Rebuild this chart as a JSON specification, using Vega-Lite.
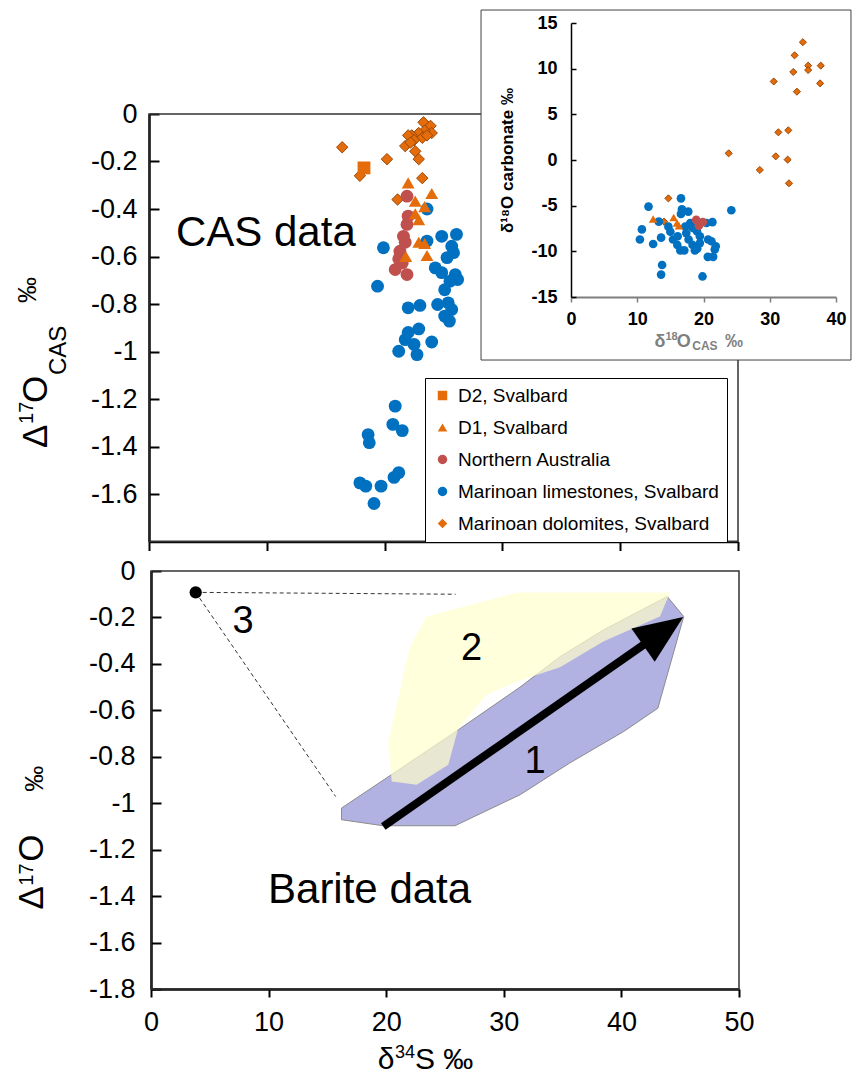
{
  "$schema": "https://vega.github.io/schema/vega-lite/v6.json",
  "width": 861,
  "height": 1084,
  "autosize": "none",
  "padding": 0,
  "background": "white",
  "datasets": {
    "cas": [
      {"series": "Marinoan dolomites, Svalbard", "d34S": 16.4, "D17O": -0.14},
      {"series": "Marinoan dolomites, Svalbard", "d34S": 20.2, "D17O": -0.19},
      {"series": "Marinoan dolomites, Svalbard", "d34S": 17.9, "D17O": -0.26},
      {"series": "Marinoan dolomites, Svalbard", "d34S": 23.2, "D17O": -0.27},
      {"series": "Marinoan dolomites, Svalbard", "d34S": 21.1, "D17O": -0.36},
      {"series": "Marinoan dolomites, Svalbard", "d34S": 23.3, "D17O": -0.035},
      {"series": "Marinoan dolomites, Svalbard", "d34S": 23.9, "D17O": -0.05},
      {"series": "Marinoan dolomites, Svalbard", "d34S": 24.0, "D17O": -0.08},
      {"series": "Marinoan dolomites, Svalbard", "d34S": 23.4, "D17O": -0.07},
      {"series": "Marinoan dolomites, Svalbard", "d34S": 22.9, "D17O": -0.08},
      {"series": "Marinoan dolomites, Svalbard", "d34S": 22.3, "D17O": -0.09},
      {"series": "Marinoan dolomites, Svalbard", "d34S": 22.0, "D17O": -0.09},
      {"series": "Marinoan dolomites, Svalbard", "d34S": 23.2, "D17O": -0.1},
      {"series": "Marinoan dolomites, Svalbard", "d34S": 22.5, "D17O": -0.11},
      {"series": "Marinoan dolomites, Svalbard", "d34S": 21.75, "D17O": -0.135},
      {"series": "Marinoan dolomites, Svalbard", "d34S": 22.6, "D17O": -0.157},
      {"series": "Marinoan dolomites, Svalbard", "d34S": 22.9, "D17O": -0.19},
      {"series": "Marinoan dolomites, Svalbard", "d34S": 22.2, "D17O": -0.12},
      {"series": "Marinoan dolomites, Svalbard", "d34S": 23.6, "D17O": -0.09},
      {"series": "Marinoan limestones, Svalbard", "d34S": 23.6, "D17O": -0.4},
      {"series": "Marinoan limestones, Svalbard", "d34S": 19.9, "D17O": -0.563},
      {"series": "Marinoan limestones, Svalbard", "d34S": 23.6, "D17O": -0.535},
      {"series": "Marinoan limestones, Svalbard", "d34S": 24.85, "D17O": -0.515},
      {"series": "Marinoan limestones, Svalbard", "d34S": 26.1, "D17O": -0.507},
      {"series": "Marinoan limestones, Svalbard", "d34S": 25.7, "D17O": -0.557},
      {"series": "Marinoan limestones, Svalbard", "d34S": 25.85, "D17O": -0.584},
      {"series": "Marinoan limestones, Svalbard", "d34S": 25.3, "D17O": -0.605},
      {"series": "Marinoan limestones, Svalbard", "d34S": 24.3, "D17O": -0.648},
      {"series": "Marinoan limestones, Svalbard", "d34S": 24.85, "D17O": -0.668},
      {"series": "Marinoan limestones, Svalbard", "d34S": 26.0, "D17O": -0.676},
      {"series": "Marinoan limestones, Svalbard", "d34S": 26.2, "D17O": -0.697},
      {"series": "Marinoan limestones, Svalbard", "d34S": 25.55, "D17O": -0.704},
      {"series": "Marinoan limestones, Svalbard", "d34S": 25.1, "D17O": -0.74},
      {"series": "Marinoan limestones, Svalbard", "d34S": 19.4, "D17O": -0.725},
      {"series": "Marinoan limestones, Svalbard", "d34S": 22.0, "D17O": -0.816},
      {"series": "Marinoan limestones, Svalbard", "d34S": 23.0, "D17O": -0.806},
      {"series": "Marinoan limestones, Svalbard", "d34S": 24.5, "D17O": -0.802},
      {"series": "Marinoan limestones, Svalbard", "d34S": 25.4, "D17O": -0.795},
      {"series": "Marinoan limestones, Svalbard", "d34S": 25.7, "D17O": -0.823},
      {"series": "Marinoan limestones, Svalbard", "d34S": 25.1, "D17O": -0.851},
      {"series": "Marinoan limestones, Svalbard", "d34S": 25.5, "D17O": -0.872},
      {"series": "Marinoan limestones, Svalbard", "d34S": 22.9, "D17O": -0.905},
      {"series": "Marinoan limestones, Svalbard", "d34S": 22.0, "D17O": -0.92},
      {"series": "Marinoan limestones, Svalbard", "d34S": 21.75, "D17O": -0.95},
      {"series": "Marinoan limestones, Svalbard", "d34S": 22.5, "D17O": -0.97},
      {"series": "Marinoan limestones, Svalbard", "d34S": 24.0, "D17O": -0.96},
      {"series": "Marinoan limestones, Svalbard", "d34S": 21.2, "D17O": -0.999},
      {"series": "Marinoan limestones, Svalbard", "d34S": 22.75, "D17O": -1.013},
      {"series": "Marinoan limestones, Svalbard", "d34S": 20.9, "D17O": -1.23},
      {"series": "Marinoan limestones, Svalbard", "d34S": 20.7, "D17O": -1.307},
      {"series": "Marinoan limestones, Svalbard", "d34S": 21.5, "D17O": -1.333},
      {"series": "Marinoan limestones, Svalbard", "d34S": 18.6, "D17O": -1.35},
      {"series": "Marinoan limestones, Svalbard", "d34S": 18.7, "D17O": -1.384},
      {"series": "Marinoan limestones, Svalbard", "d34S": 21.2, "D17O": -1.51},
      {"series": "Marinoan limestones, Svalbard", "d34S": 20.8, "D17O": -1.53},
      {"series": "Marinoan limestones, Svalbard", "d34S": 17.9, "D17O": -1.553},
      {"series": "Marinoan limestones, Svalbard", "d34S": 18.4, "D17O": -1.567},
      {"series": "Marinoan limestones, Svalbard", "d34S": 19.7, "D17O": -1.567},
      {"series": "Marinoan limestones, Svalbard", "d34S": 19.1, "D17O": -1.64},
      {"series": "Northern Australia", "d34S": 21.9, "D17O": -0.346},
      {"series": "Northern Australia", "d34S": 22.0, "D17O": -0.43},
      {"series": "Northern Australia", "d34S": 21.9, "D17O": -0.465},
      {"series": "Northern Australia", "d34S": 21.6, "D17O": -0.515},
      {"series": "Northern Australia", "d34S": 21.75, "D17O": -0.54},
      {"series": "Northern Australia", "d34S": 21.3, "D17O": -0.578},
      {"series": "Northern Australia", "d34S": 21.2, "D17O": -0.61},
      {"series": "Northern Australia", "d34S": 20.9, "D17O": -0.655},
      {"series": "Northern Australia", "d34S": 21.9, "D17O": -0.676},
      {"series": "Northern Australia", "d34S": 21.5, "D17O": -0.627},
      {"series": "D1, Svalbard", "d34S": 22.0, "D17O": -0.29},
      {"series": "D1, Svalbard", "d34S": 24.0, "D17O": -0.335},
      {"series": "D1, Svalbard", "d34S": 22.6, "D17O": -0.367},
      {"series": "D1, Svalbard", "d34S": 23.4, "D17O": -0.39},
      {"series": "D1, Svalbard", "d34S": 22.6, "D17O": -0.42},
      {"series": "D1, Svalbard", "d34S": 22.9, "D17O": -0.445},
      {"series": "D1, Svalbard", "d34S": 22.9, "D17O": -0.54},
      {"series": "D1, Svalbard", "d34S": 23.4, "D17O": -0.545},
      {"series": "D1, Svalbard", "d34S": 23.6, "D17O": -0.596},
      {"series": "D1, Svalbard", "d34S": 21.8, "D17O": -0.6},
      {"series": "D2, Svalbard", "d34S": 18.25, "D17O": -0.227}
    ],
    "inset": [
      {"series": "Marinoan dolomites, Svalbard", "d18O_CAS": 35.0, "d18O_carb": 12.9},
      {"series": "Marinoan dolomites, Svalbard", "d18O_CAS": 33.75, "d18O_carb": 11.46},
      {"series": "Marinoan dolomites, Svalbard", "d18O_CAS": 33.55, "d18O_carb": 9.64},
      {"series": "Marinoan dolomites, Svalbard", "d18O_CAS": 35.8, "d18O_carb": 10.33},
      {"series": "Marinoan dolomites, Svalbard", "d18O_CAS": 35.8, "d18O_carb": 9.85},
      {"series": "Marinoan dolomites, Svalbard", "d18O_CAS": 37.7, "d18O_carb": 10.33},
      {"series": "Marinoan dolomites, Svalbard", "d18O_CAS": 37.6, "d18O_carb": 8.39},
      {"series": "Marinoan dolomites, Svalbard", "d18O_CAS": 30.6, "d18O_carb": 8.6},
      {"series": "Marinoan dolomites, Svalbard", "d18O_CAS": 34.1, "d18O_carb": 7.48},
      {"series": "Marinoan dolomites, Svalbard", "d18O_CAS": 32.8, "d18O_carb": 3.25},
      {"series": "Marinoan dolomites, Svalbard", "d18O_CAS": 31.3, "d18O_carb": 3.03},
      {"series": "Marinoan dolomites, Svalbard", "d18O_CAS": 30.9, "d18O_carb": 0.4},
      {"series": "Marinoan dolomites, Svalbard", "d18O_CAS": 32.7, "d18O_carb": 0.04},
      {"series": "Marinoan dolomites, Svalbard", "d18O_CAS": 32.9, "d18O_carb": -2.55},
      {"series": "Marinoan dolomites, Svalbard", "d18O_CAS": 28.5, "d18O_carb": -1.09},
      {"series": "Marinoan dolomites, Svalbard", "d18O_CAS": 23.8, "d18O_carb": 0.73},
      {"series": "Marinoan dolomites, Svalbard", "d18O_CAS": 14.7, "d18O_carb": -4.2},
      {"series": "Marinoan dolomites, Svalbard", "d18O_CAS": 14.05, "d18O_carb": -6.75},
      {"series": "Marinoan limestones, Svalbard", "d18O_CAS": 11.7, "d18O_carb": -5.1},
      {"series": "Marinoan limestones, Svalbard", "d18O_CAS": 10.7, "d18O_carb": -7.6},
      {"series": "Marinoan limestones, Svalbard", "d18O_CAS": 10.4, "d18O_carb": -8.7},
      {"series": "Marinoan limestones, Svalbard", "d18O_CAS": 12.4, "d18O_carb": -9.2},
      {"series": "Marinoan limestones, Svalbard", "d18O_CAS": 13.25, "d18O_carb": -6.75},
      {"series": "Marinoan limestones, Svalbard", "d18O_CAS": 13.6, "d18O_carb": -8.5},
      {"series": "Marinoan limestones, Svalbard", "d18O_CAS": 13.75, "d18O_carb": -11.5},
      {"series": "Marinoan limestones, Svalbard", "d18O_CAS": 13.6, "d18O_carb": -12.55},
      {"series": "Marinoan limestones, Svalbard", "d18O_CAS": 14.7, "d18O_carb": -7.3},
      {"series": "Marinoan limestones, Svalbard", "d18O_CAS": 15.0, "d18O_carb": -7.85},
      {"series": "Marinoan limestones, Svalbard", "d18O_CAS": 15.4, "d18O_carb": -8.7},
      {"series": "Marinoan limestones, Svalbard", "d18O_CAS": 16.6, "d18O_carb": -4.2},
      {"series": "Marinoan limestones, Svalbard", "d18O_CAS": 16.75, "d18O_carb": -5.4},
      {"series": "Marinoan limestones, Svalbard", "d18O_CAS": 16.6, "d18O_carb": -5.9},
      {"series": "Marinoan limestones, Svalbard", "d18O_CAS": 17.7, "d18O_carb": -5.65},
      {"series": "Marinoan limestones, Svalbard", "d18O_CAS": 16.1, "d18O_carb": -8.35},
      {"series": "Marinoan limestones, Svalbard", "d18O_CAS": 16.05, "d18O_carb": -9.3},
      {"series": "Marinoan limestones, Svalbard", "d18O_CAS": 16.5, "d18O_carb": -9.9},
      {"series": "Marinoan limestones, Svalbard", "d18O_CAS": 17.1, "d18O_carb": -9.9},
      {"series": "Marinoan limestones, Svalbard", "d18O_CAS": 17.25, "d18O_carb": -7.3},
      {"series": "Marinoan limestones, Svalbard", "d18O_CAS": 17.4, "d18O_carb": -8.0},
      {"series": "Marinoan limestones, Svalbard", "d18O_CAS": 17.75, "d18O_carb": -8.7},
      {"series": "Marinoan limestones, Svalbard", "d18O_CAS": 18.35, "d18O_carb": -9.3},
      {"series": "Marinoan limestones, Svalbard", "d18O_CAS": 18.7, "d18O_carb": -9.9},
      {"series": "Marinoan limestones, Svalbard", "d18O_CAS": 19.0, "d18O_carb": -7.8},
      {"series": "Marinoan limestones, Svalbard", "d18O_CAS": 19.45, "d18O_carb": -8.35},
      {"series": "Marinoan limestones, Svalbard", "d18O_CAS": 19.45, "d18O_carb": -9.1},
      {"series": "Marinoan limestones, Svalbard", "d18O_CAS": 19.05, "d18O_carb": -9.7},
      {"series": "Marinoan limestones, Svalbard", "d18O_CAS": 19.85, "d18O_carb": -12.75},
      {"series": "Marinoan limestones, Svalbard", "d18O_CAS": 20.45, "d18O_carb": -6.9},
      {"series": "Marinoan limestones, Svalbard", "d18O_CAS": 21.35, "d18O_carb": -6.8},
      {"series": "Marinoan limestones, Svalbard", "d18O_CAS": 20.7, "d18O_carb": -8.7},
      {"series": "Marinoan limestones, Svalbard", "d18O_CAS": 21.2, "d18O_carb": -8.9},
      {"series": "Marinoan limestones, Svalbard", "d18O_CAS": 21.85, "d18O_carb": -9.45},
      {"series": "Marinoan limestones, Svalbard", "d18O_CAS": 21.7, "d18O_carb": -9.8},
      {"series": "Marinoan limestones, Svalbard", "d18O_CAS": 20.65, "d18O_carb": -10.6},
      {"series": "Marinoan limestones, Svalbard", "d18O_CAS": 21.45, "d18O_carb": -10.6},
      {"series": "Marinoan limestones, Svalbard", "d18O_CAS": 24.2, "d18O_carb": -5.5},
      {"series": "Marinoan limestones, Svalbard", "d18O_CAS": 18.0, "d18O_carb": -6.9},
      {"series": "Marinoan limestones, Svalbard", "d18O_CAS": 18.4, "d18O_carb": -7.45},
      {"series": "D1, Svalbard", "d18O_CAS": 12.4, "d18O_carb": -6.45},
      {"series": "D1, Svalbard", "d18O_CAS": 15.5, "d18O_carb": -6.3},
      {"series": "D1, Svalbard", "d18O_CAS": 16.0, "d18O_carb": -6.9},
      {"series": "D1, Svalbard", "d18O_CAS": 16.3, "d18O_carb": -7.2},
      {"series": "Northern Australia", "d18O_CAS": 18.9, "d18O_carb": -6.55},
      {"series": "Northern Australia", "d18O_CAS": 19.4, "d18O_carb": -6.9},
      {"series": "Northern Australia", "d18O_CAS": 19.9, "d18O_carb": -6.8},
      {"series": "Northern Australia", "d18O_CAS": 19.3, "d18O_carb": -7.2}
    ],
    "fields": [
      {"field": "1", "i": 0, "d34S": 16.2, "D17O": -1.021},
      {"field": "1", "i": 1, "d34S": 16.2, "D17O": -1.071},
      {"field": "1", "i": 2, "d34S": 19.75, "D17O": -1.097},
      {"field": "1", "i": 3, "d34S": 25.85, "D17O": -1.097},
      {"field": "1", "i": 4, "d34S": 31.4, "D17O": -0.963},
      {"field": "1", "i": 5, "d34S": 35.6, "D17O": -0.827},
      {"field": "1", "i": 6, "d34S": 40.2, "D17O": -0.691},
      {"field": "1", "i": 7, "d34S": 43.1, "D17O": -0.591},
      {"field": "1", "i": 8, "d34S": 45.3, "D17O": -0.196},
      {"field": "1", "i": 9, "d34S": 43.9, "D17O": -0.11},
      {"field": "1", "i": 10, "d34S": 38.46, "D17O": -0.254},
      {"field": "1", "i": 11, "d34S": 34.78, "D17O": -0.369},
      {"field": "1", "i": 12, "d34S": 31.38, "D17O": -0.5},
      {"field": "1", "i": 13, "d34S": 26.13, "D17O": -0.684},
      {"field": "2", "i": 0, "d34S": 23.44, "D17O": -0.196},
      {"field": "2", "i": 1, "d34S": 31.1, "D17O": -0.093},
      {"field": "2", "i": 2, "d34S": 44.13, "D17O": -0.093},
      {"field": "2", "i": 3, "d34S": 43.28, "D17O": -0.196},
      {"field": "2", "i": 4, "d34S": 38.46, "D17O": -0.304},
      {"field": "2", "i": 5, "d34S": 34.78, "D17O": -0.414},
      {"field": "2", "i": 6, "d34S": 31.1, "D17O": -0.476},
      {"field": "2", "i": 7, "d34S": 28.55, "D17O": -0.533},
      {"field": "2", "i": 8, "d34S": 26.13, "D17O": -0.677},
      {"field": "2", "i": 9, "d34S": 25.28, "D17O": -0.834},
      {"field": "2", "i": 10, "d34S": 22.59, "D17O": -0.92},
      {"field": "2", "i": 11, "d34S": 20.47, "D17O": -0.906},
      {"field": "2", "i": 12, "d34S": 20.18, "D17O": -0.741},
      {"field": "2", "i": 13, "d34S": 22.02, "D17O": -0.326}
    ],
    "guides": [
      {"x": 3.8, "y": -0.092, "x2": 25.9, "y2": -0.1},
      {"x": 3.8, "y": -0.092, "x2": 15.7, "y2": -0.971}
    ],
    "endmember": [{"label": "3", "d34S": 3.8, "D17O": -0.092}],
    "arrow": [{"x": 19.75, "y": -1.1, "x2": 43.55, "y2": -0.259}],
    "notes": [
      {"panel": "top", "role": "big", "text": "CAS data", "x": 2.29, "y": -0.556},
      {"panel": "bottom", "role": "big", "text": "Barite data", "x": 9.95, "y": -1.428},
      {"panel": "bottom", "role": "num", "text": "3", "x": 6.93, "y": -0.267},
      {"panel": "bottom", "role": "num", "text": "2", "x": 26.36, "y": -0.383},
      {"panel": "bottom", "role": "num", "text": "1", "x": 31.77, "y": -0.869},
      {"panel": "bottom", "role": "xtitle", "text": "δ", "x": 19.29, "y": -2.146},
      {"panel": "bottom", "role": "xsup", "text": "34", "x": 20.74, "y": -2.095},
      {"panel": "bottom", "role": "xtitle", "text": "S ‰", "x": 22.45, "y": -2.146},
      {"panel": "inset", "role": "imain", "text": "δ", "x": 12.6, "y": -20.5},
      {"panel": "inset", "role": "isup", "text": "18", "x": 14.25, "y": -19.75},
      {"panel": "inset", "role": "imain", "text": "O", "x": 15.95, "y": -20.5},
      {"panel": "inset", "role": "isub", "text": "CAS", "x": 18.3, "y": -20.85},
      {"panel": "inset", "role": "imain", "text": "‰", "x": 23.25, "y": -20.5}
    ],
    "ytitles": [
      {"panel": "top", "role": "title", "text": "Δ", "x": -8.66, "y": -1.406},
      {"panel": "top", "role": "titlesup", "text": "17", "x": -9.85, "y": -1.305},
      {"panel": "top", "role": "title", "text": "O", "x": -8.66, "y": -1.217},
      {"panel": "top", "role": "titlesub", "text": "CAS", "x": -7.05, "y": -1.099},
      {"panel": "top", "role": "unit", "text": "‰", "x": -9.59, "y": -0.796},
      {"panel": "bottom", "role": "title", "text": "Δ", "x": -9.18, "y": -1.458},
      {"panel": "bottom", "role": "titlesup", "text": "17", "x": -10.03, "y": -1.355},
      {"panel": "bottom", "role": "title", "text": "O", "x": -9.18, "y": -1.252},
      {"panel": "bottom", "role": "unit", "text": "‰", "x": -9.18, "y": -0.951}
    ]
  },
  "layer": [
    {
      "layer": [
        {
          "data": {"values": [{}]},
          "mark": {"type": "rect", "filled": false, "stroke": "#333333", "strokeWidth": 1.5},
          "encoding": {
            "x": {"datum": 0, "type": "quantitative", "scale": {"domain": [0, 50], "range": [149, 738], "nice": false, "zero": false},
              "axis": {"orient": "bottom", "offset": -542.5, "values": [0, 10, 20, 30, 40, 50], "labels": false, "tickSize": 9, "tickWidth": 2, "domainWidth": 2.5, "title": null}},
            "x2": {"datum": 50},
            "y": {"datum": -1.8, "type": "quantitative", "scale": {"domain": [-1.8, 0], "range": [541.5, 114], "nice": false, "zero": false},
              "axis": {"orient": "left", "offset": -149, "values": [0, -0.2, -0.4, -0.6, -0.8, -1, -1.2, -1.4, -1.6], "tickSize": -10, "tickWidth": 2, "domainWidth": 2.5, "labelPadding": 22, "labelFontSize": 27, "labelExpr": "(datum.value < 0 ? '-' : '') + format(abs(datum.value), '~g')", "title": null}},
            "y2": {"datum": 0}
          }
        },
        {
          "data": {"name": "cas"},
          "transform": [{"filter": "datum.series === 'Marinoan dolomites, Svalbard'"}],
          "mark": {"type": "point", "filled": true, "opacity": 1, "size": 130, "stroke": "#984807", "strokeWidth": 1},
          "encoding": {
            "x": {"field": "d34S", "type": "quantitative"},
            "y": {"field": "D17O", "type": "quantitative"},
            "color": {"field": "series", "type": "nominal", "legend": {"title": null},
              "scale": {"domain": ["D2, Svalbard", "D1, Svalbard", "Northern Australia", "Marinoan limestones, Svalbard", "Marinoan dolomites, Svalbard"], "range": ["#E46C0A", "#E46C0A", "#C0504D", "#0070C0", "#E46C0A"]}},
            "shape": {"field": "series", "type": "nominal", "legend": {"title": null},
              "scale": {"domain": ["D2, Svalbard", "D1, Svalbard", "Northern Australia", "Marinoan limestones, Svalbard", "Marinoan dolomites, Svalbard"], "range": ["square", "triangle-up", "circle", "circle", "diamond"]}}
          }
        },
        {
          "data": {"name": "cas"},
          "transform": [{"filter": "datum.series !== 'Marinoan dolomites, Svalbard'"}],
          "mark": {"type": "point", "filled": true, "opacity": 1, "size": 165},
          "encoding": {
            "x": {"field": "d34S", "type": "quantitative"},
            "y": {"field": "D17O", "type": "quantitative"},
            "color": {"field": "series", "type": "nominal", "legend": {"title": null},
              "scale": {"domain": ["D2, Svalbard", "D1, Svalbard", "Northern Australia", "Marinoan limestones, Svalbard", "Marinoan dolomites, Svalbard"], "range": ["#E46C0A", "#E46C0A", "#C0504D", "#0070C0", "#E46C0A"]}},
            "shape": {"field": "series", "type": "nominal", "legend": {"title": null},
              "scale": {"domain": ["D2, Svalbard", "D1, Svalbard", "Northern Australia", "Marinoan limestones, Svalbard", "Marinoan dolomites, Svalbard"], "range": ["square", "triangle-up", "circle", "circle", "diamond"]}}
          }
        },
        {
          "data": {"name": "notes"},
          "transform": [{"filter": "datum.panel === 'top'"}],
          "mark": {"type": "text", "align": "left", "baseline": "alphabetic", "color": "#000", "fontSize": 42},
          "encoding": {
            "x": {"field": "x", "type": "quantitative"},
            "y": {"field": "y", "type": "quantitative"},
            "text": {"field": "text"}
          }
        },
        {
          "data": {"name": "ytitles"},
          "transform": [{"filter": "datum.panel === 'top'"}],
          "mark": {"type": "text", "align": "left", "baseline": "alphabetic", "angle": 270, "color": "#000"},
          "encoding": {
            "x": {"field": "x", "type": "quantitative"},
            "y": {"field": "y", "type": "quantitative"},
            "text": {"field": "text"},
            "size": {"condition": [{"test": "datum.role === 'titlesup'", "value": 20}, {"test": "datum.role === 'titlesub'", "value": 24}, {"test": "datum.role === 'unit'", "value": 26}], "value": 35}
          }
        }
      ]
    },
    {
      "layer": [
        {
          "data": {"values": [{}]},
          "mark": {"type": "rect", "fill": "#ffffff", "stroke": "#404040", "strokeWidth": 1},
          "encoding": {
            "x": {"datum": -13.58, "type": "quantitative", "scale": {"domain": [0, 40], "range": [571, 836], "nice": false, "zero": false},
              "axis": {"orient": "bottom", "offset": -787, "values": [0, 10, 20, 30, 40], "tickSize": 5, "tickWidth": 1.5, "tickColor": "#7f7f7f", "domainColor": "#7f7f7f", "domainWidth": 2, "labelFontSize": 18, "labelFontWeight": "bold", "labelPadding": 8, "title": null, "zindex": 1}},
            "x2": {"datum": 42.26},
            "y": {"datum": -21.9, "type": "quantitative", "scale": {"domain": [-15, 15], "range": [297, 23], "nice": false, "zero": false},
              "axis": {"orient": "left", "offset": -571, "values": [-15, -10, -5, 0, 5, 10, 15], "tickSize": -5, "tickWidth": 1.5, "domainWidth": 1.5, "labelFontSize": 18, "labelFontWeight": "bold", "labelPadding": 19, "labelExpr": "(datum.value < 0 ? '-' : '') + format(abs(datum.value), '~g')", "title": "δ¹⁸O carbonate ‰", "titleFontSize": 17, "titleFontWeight": "bold", "titlePadding": 14, "zindex": 1}},
            "y2": {"datum": 16.42}
          }
        },
        {
          "data": {"name": "inset"},
          "transform": [{"filter": "datum.series === 'Marinoan dolomites, Svalbard'"}],
          "mark": {"type": "point", "filled": true, "opacity": 1, "size": 50, "stroke": "#984807", "strokeWidth": 1},
          "encoding": {
            "x": {"field": "d18O_CAS", "type": "quantitative"},
            "y": {"field": "d18O_carb", "type": "quantitative"},
            "color": {"field": "series", "type": "nominal", "legend": {"title": null},
              "scale": {"domain": ["D2, Svalbard", "D1, Svalbard", "Northern Australia", "Marinoan limestones, Svalbard", "Marinoan dolomites, Svalbard"], "range": ["#E46C0A", "#E46C0A", "#C0504D", "#0070C0", "#E46C0A"]}},
            "shape": {"field": "series", "type": "nominal", "legend": {"title": null},
              "scale": {"domain": ["D2, Svalbard", "D1, Svalbard", "Northern Australia", "Marinoan limestones, Svalbard", "Marinoan dolomites, Svalbard"], "range": ["square", "triangle-up", "circle", "circle", "diamond"]}}
          }
        },
        {
          "data": {"name": "inset"},
          "transform": [{"filter": "datum.series !== 'Marinoan dolomites, Svalbard'"}],
          "mark": {"type": "point", "filled": true, "opacity": 1, "size": 75},
          "encoding": {
            "x": {"field": "d18O_CAS", "type": "quantitative"},
            "y": {"field": "d18O_carb", "type": "quantitative"},
            "color": {"field": "series", "type": "nominal", "legend": {"title": null},
              "scale": {"domain": ["D2, Svalbard", "D1, Svalbard", "Northern Australia", "Marinoan limestones, Svalbard", "Marinoan dolomites, Svalbard"], "range": ["#E46C0A", "#E46C0A", "#C0504D", "#0070C0", "#E46C0A"]}},
            "shape": {"field": "series", "type": "nominal", "legend": {"title": null},
              "scale": {"domain": ["D2, Svalbard", "D1, Svalbard", "Northern Australia", "Marinoan limestones, Svalbard", "Marinoan dolomites, Svalbard"], "range": ["square", "triangle-up", "circle", "circle", "diamond"]}}
          }
        },
        {
          "data": {"name": "notes"},
          "transform": [{"filter": "datum.panel === 'inset'"}],
          "mark": {"type": "text", "align": "left", "baseline": "alphabetic", "color": "#7f7f7f", "fontWeight": "bold"},
          "encoding": {
            "x": {"field": "x", "type": "quantitative"},
            "y": {"field": "y", "type": "quantitative"},
            "text": {"field": "text"},
            "size": {"condition": [{"test": "datum.role === 'isup'", "value": 11}, {"test": "datum.role === 'isub'", "value": 12}], "value": 18}
          }
        }
      ]
    },
    {
      "layer": [
        {
          "data": {"values": [{}]},
          "mark": {"type": "rect", "filled": false, "stroke": "#333333", "strokeWidth": 1.5},
          "encoding": {
            "x": {"datum": 0, "type": "quantitative", "scale": {"domain": [0, 50], "range": [151, 739], "nice": false, "zero": false},
              "axis": {"orient": "bottom", "offset": -95, "values": [0, 10, 20, 30, 40, 50], "tickSize": 8, "tickWidth": 2, "domainWidth": 2.5, "labelFontSize": 27, "labelPadding": 12, "title": null}},
            "x2": {"datum": 50},
            "y": {"datum": -1.8, "type": "quantitative", "scale": {"domain": [-1.8, 0], "range": [989, 571], "nice": false, "zero": false},
              "axis": {"orient": "left", "offset": -151, "values": [0, -0.2, -0.4, -0.6, -0.8, -1, -1.2, -1.4, -1.6, -1.8], "tickSize": -10, "tickWidth": 2, "domainWidth": 2.5, "labelPadding": 26, "labelFontSize": 27, "labelExpr": "(datum.value < 0 ? '-' : '') + format(abs(datum.value), '~g')", "title": null}},
            "y2": {"datum": 0}
          }
        },
        {
          "data": {"name": "fields"},
          "transform": [{"filter": "datum.field === '1'"}],
          "mark": {"type": "line", "interpolate": "linear-closed", "fill": "#B1B1E2", "stroke": "#8c8c8c", "strokeWidth": 1},
          "encoding": {
            "x": {"field": "d34S", "type": "quantitative"},
            "y": {"field": "D17O", "type": "quantitative"},
            "order": {"field": "i", "type": "quantitative"}
          }
        },
        {
          "data": {"name": "fields"},
          "transform": [{"filter": "datum.field === '2'"}],
          "mark": {"type": "line", "interpolate": "linear-closed", "fill": "#FFFFCC", "fillOpacity": 0.7, "stroke": null, "strokeWidth": 0},
          "encoding": {
            "x": {"field": "d34S", "type": "quantitative"},
            "y": {"field": "D17O", "type": "quantitative"},
            "order": {"field": "i", "type": "quantitative"}
          }
        },
        {
          "data": {"name": "guides"},
          "mark": {"type": "rule", "stroke": "#333333", "strokeWidth": 1, "strokeDash": [4, 3]},
          "encoding": {
            "x": {"field": "x", "type": "quantitative"},
            "y": {"field": "y", "type": "quantitative"},
            "x2": {"field": "x2"},
            "y2": {"field": "y2"}
          }
        },
        {
          "data": {"name": "endmember"},
          "mark": {"type": "point", "shape": "circle", "filled": true, "opacity": 1, "size": 150, "color": "#000"},
          "encoding": {
            "x": {"field": "d34S", "type": "quantitative"},
            "y": {"field": "D17O", "type": "quantitative"}
          }
        },
        {
          "data": {"name": "arrow"},
          "mark": {"type": "rule", "stroke": "#000", "strokeWidth": 8, "strokeCap": "butt"},
          "encoding": {
            "x": {"field": "x", "type": "quantitative"},
            "y": {"field": "y", "type": "quantitative"},
            "x2": {"field": "x2"},
            "y2": {"field": "y2"}
          }
        },
        {
          "data": {"name": "arrow"},
          "mark": {"type": "point", "shape": "M0,-1L0.83,1L-0.83,1Z", "filled": true, "opacity": 1, "size": 2401, "angle": 55, "color": "#000"},
          "encoding": {
            "x": {"field": "x2", "type": "quantitative"},
            "y": {"field": "y2", "type": "quantitative"}
          }
        },
        {
          "data": {"name": "notes"},
          "transform": [{"filter": "datum.panel === 'bottom'"}],
          "mark": {"type": "text", "align": "left", "baseline": "alphabetic", "color": "#000"},
          "encoding": {
            "x": {"field": "x", "type": "quantitative"},
            "y": {"field": "y", "type": "quantitative"},
            "text": {"field": "text"},
            "size": {"condition": [{"test": "datum.role === 'big'", "value": 42}, {"test": "datum.role === 'num'", "value": 38}, {"test": "datum.role === 'xsup'", "value": 18}], "value": 30}
          }
        },
        {
          "data": {"name": "ytitles"},
          "transform": [{"filter": "datum.panel === 'bottom'"}],
          "mark": {"type": "text", "align": "left", "baseline": "alphabetic", "angle": 270, "color": "#000"},
          "encoding": {
            "x": {"field": "x", "type": "quantitative"},
            "y": {"field": "y", "type": "quantitative"},
            "text": {"field": "text"},
            "size": {"condition": [{"test": "datum.role === 'titlesup'", "value": 20}, {"test": "datum.role === 'unit'", "value": 26}], "value": 35}
          }
        }
      ]
    }
  ],
  "resolve": {"scale": {"x": "independent", "y": "independent"}, "axis": {"x": "independent", "y": "independent"}},
  "config": {
    "view": {"stroke": null},
    "font": "Liberation Sans",
    "text": {"font": "Liberation Sans"},
    "axis": {"grid": false, "labelFont": "Liberation Sans", "titleFont": "Liberation Sans", "labelColor": "#000", "titleColor": "#000", "domainColor": "#000", "tickColor": "#000", "labelFlush": false, "labelOverlap": false, "labelBound": false},
    "legend": {"orient": "none", "legendX": 425, "legendY": 378, "labelFont": "Liberation Sans", "labelFontSize": 19, "labelColor": "#000", "labelLimit": 400, "symbolSize": 90, "rowPadding": 12, "padding": 8, "strokeColor": "#000", "fillColor": "#fff", "labelOffset": 6, "symbolStrokeWidth": 0}
  }
}
